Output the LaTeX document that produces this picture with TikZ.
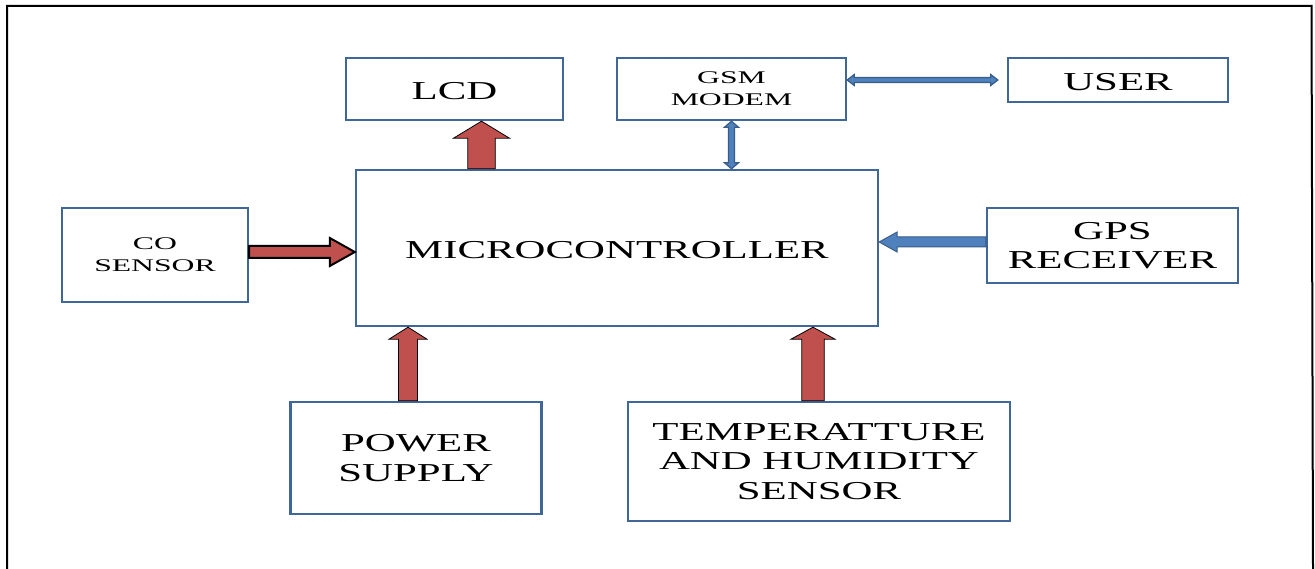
\documentclass[tikz,border=0pt]{standalone}
\usepackage{fontspec}
\usetikzlibrary{calc}
\newfontfamily\fbig[FakeStretch=1.66]{Liberation Serif}
\newfontfamily\fsmall[FakeStretch=1.78]{Liberation Serif}
\definecolor{boxblue}{RGB}{65,102,152}
\definecolor{redfill}{RGB}{192,80,77}
\definecolor{bluefill}{RGB}{79,129,189}
\definecolor{blueline}{RGB}{56,93,138}
\newcommand\blockarrow[6]{%
  \coordinate (ba-h) at ($(#2)!#5!(#1)$);
  \draw[#6] ($(#1)!#3!90:(#2)$) -- ($(ba-h)!#3!90:(#2)$) -- ($(ba-h)!#4!90:(#2)$) -- (#2)
    -- ($(ba-h)!#4!-90:(#2)$) -- ($(ba-h)!#3!-90:(#2)$) -- ($(#1)!#3!-90:(#2)$) -- cycle;}
\newcommand\dblarrow[6]{%
  \coordinate (da-a) at ($(#1)!#5!(#2)$);
  \coordinate (da-b) at ($(#2)!#5!(#1)$);
  \draw[#6] (#1) -- ($(da-a)!#4!90:(#2)$) -- ($(da-a)!#3!90:(#2)$) -- ($(da-b)!#3!90:(#2)$)
    -- ($(da-b)!#4!90:(#2)$) -- (#2) -- ($(da-b)!#4!-90:(#2)$) -- ($(da-b)!#3!-90:(#2)$)
    -- ($(da-a)!#3!-90:(#2)$) -- ($(da-a)!#4!-90:(#2)$) -- cycle;}
\tikzset{
  blk/.style={draw=boxblue, line width=2.4pt, fill=white, inner sep=0pt, align=center, text=black},
  bigtxt/.style={font=\fbig\fontsize{25.8}{29.5}\selectfont},
  smalltxt/.style={font=\fsmall\fontsize{17.8}{21.7}\selectfont},
  oneline/.style={text height=21pt, text depth=0pt},
  redarrow/.style={fill=redfill, draw=black, line width=0.8pt, line join=miter},
  coarrow/.style={fill=redfill, draw=black, line width=2pt, line join=miter},
  bluearrow/.style={fill=bluefill, draw=blueline, line width=1pt, line join=miter},
  thinblue/.style={fill=bluefill, draw=blueline, line width=1.2pt, line join=miter}
}
\begin{document}
\begin{tikzpicture}[x=1pt,y=-1pt]
\useasboundingbox (0,0) rectangle (1315,569);
\fill[white] (0,0) rectangle (1315,569);
\draw[line width=2pt] (7,569) -- (7,6) -- (1311.5,6) -- (1313,569);

\node[blk,bigtxt,oneline,minimum width=217pt,minimum height=62pt] (lcd) at (454.5,89) {LCD};
\node[blk,smalltxt,minimum width=229pt,minimum height=62pt] (gsm) at (731.5,89) {GSM\\MODEM};
\node[blk,bigtxt,oneline,minimum width=220pt,minimum height=44pt] (user) at (1118,80) {USER};
\node[blk,bigtxt,oneline,minimum width=522pt,minimum height=156pt] (micro) at (617,248) {MICROCONTROLLER};
\node[blk,smalltxt,minimum width=186pt,minimum height=94pt] (co) at (155,255) {CO\\SENSOR};
\node[blk,bigtxt,minimum width=251pt,minimum height=75pt] (gps) at (1112.5,245.5) {GPS\\RECEIVER};
\node[blk,bigtxt,minimum width=251pt,minimum height=112pt] (power) at (416,458) {POWER\\SUPPLY};
\node[blk,bigtxt,minimum width=382pt,minimum height=119pt] (temp) at (819,461.5) {TEMPERATTURE\\AND HUMIDITY\\SENSOR};

% reference coordinates for arrow positions
\coordinate (xl) at (481.5,0);
\coordinate (xg) at (731.5,0);
\coordinate (yc) at (0,252);
\coordinate (yg) at (0,242);
\coordinate (xp) at (408,0);
\coordinate (xt) at (813,0);
\coordinate (yu) at (0,80);

\coordinate (lcdT) at (xl |- micro.north);
\coordinate (lcdH) at (xl |- lcd.south);
\blockarrow{lcdT}{lcdH}{13.75pt}{28pt}{17pt}{redarrow}

\coordinate (coT) at (co.east |- yc);
\coordinate (coH) at (micro.west |- yc);
\blockarrow{coT}{coH}{6pt}{14pt}{25pt}{coarrow}

\coordinate (pT) at (xp |- power.north);
\coordinate (pH) at (xp |- micro.south);
\blockarrow{pT}{pH}{9.5pt}{19pt}{12pt}{redarrow}

\coordinate (tT) at (xt |- temp.north);
\coordinate (tH) at (xt |- micro.south);
\blockarrow{tT}{tH}{11.25pt}{22pt}{12pt}{redarrow}

\coordinate (gT) at (gps.west |- yg);
\coordinate (gH) at (micro.east |- yg);
\blockarrow{gT}{gH}{5pt}{10pt}{18pt}{bluearrow}

\coordinate (gmA) at (xg |- micro.north);
\coordinate (gmB) at (xg |- gsm.south);
\dblarrow{gmA}{gmB}{3pt}{7pt}{6pt}{thinblue}

\coordinate (uA) at (gsm.east |- yu);
\coordinate (uB) at ($(user.west |- yu)+(-9,0)$);
\dblarrow{uA}{uB}{2.5pt}{5.5pt}{7pt}{thinblue}
\end{tikzpicture}
\end{document}
